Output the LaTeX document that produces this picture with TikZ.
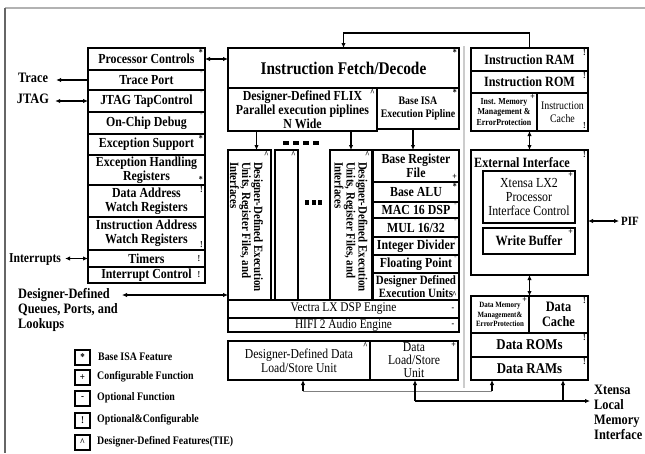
\documentclass[tikz,border=0pt]{standalone}
\usepackage{fontspec}
\setmainfont{Liberation Serif}[FakeStretch=0.86]
\usetikzlibrary{arrows.meta,calc}
\newcommand\fs[2]{\fontsize{\fpeval{#1*1.15}}{#2}\selectfont}
\newcommand\bx[7][]{\node[box,#1,minimum width={(#5-#3)*1pt},minimum height={(#6-#4)*1pt}] (#2) at ({(#3+#5)/2},{(#4+#6)/2}) {#7};}
\newcommand\mkNE[3][]{\node[mk,#1,anchor=north east] (#2-m) at ([xshift=-1.5pt,yshift=-1pt]#2.north east) {#3};}
\newcommand\mkSE[3][]{\node[mk,#1,anchor=south east] (#2-m) at ([xshift=-1.5pt,yshift=1.5pt]#2.south east) {#3};}
\newcommand\mkE[3][]{\node[mk,#1,anchor=east] (#2-m) at ([xshift=-4pt]#2.east) {#3};}
\begin{document}
\begin{tikzpicture}[x=1pt,y=-1pt,
  box/.style={draw, line width=1.9pt, inner sep=0pt, outer sep=0pt, align=center, font=\bfseries\fs{12}{14}},
  reg/.style={font=\fs{11.5}{13.5}},
  mk/.style={inner sep=0.5pt, font=\bfseries\fs{8}{8}},
  lbl/.style={inner sep=0pt, align=left, font=\bfseries\fs{12.5}{15}},
  arr/.style={line width=1.3pt, -{Latex[length=5pt,width=4.5pt]}},
  darr/.style={line width=1.3pt, {Latex[length=5pt,width=4.5pt]}-{Latex[length=5pt,width=4.5pt]}},
  frame/.style={line width=1.5pt, gray!60},
]
\useasboundingbox (0,0) rectangle (645,453);
% frame
\coordinate (f0) at (5,8);
\coordinate (f1) at (645,8);
\coordinate (f2) at (5,453);
\draw[frame] (f1) -- (f0);
\draw[line width=1.5pt, gray!80!black] (f0) -- (f2);
\coordinate (g0) at (464,46);
\coordinate (g1) at (464,388);
\draw[frame, gray!40] (g0) -- (g1);

% left column
\bx{pc}{88}{48}{205}{70}{Processor Controls}
\bx{tp}{88}{70}{205}{90}{Trace Port}
\bx{jt}{88}{90}{205}{112}{JTAG TapControl}
\bx{ocd}{88}{112}{205}{134}{On-Chip Debug}
\bx{es}{88}{134}{205}{155}{Exception Support}
\bx{ehr}{88}{155}{205}{185}{Exception Handling\\Registers}
\bx{daw}{88}{185}{205}{217}{Data Address\\Watch Registers}
\bx{iaw}{88}{217}{205}{250}{Instruction Address\\Watch Registers}
\bx{tim}{88}{250}{205}{267}{Timers}
\bx{ic}{88}{267}{205}{283}{Interrupt Control}
\mkNE{pc}{*}
\mkNE[gray]{tp}{-}
\mkNE[gray]{jt}{-}
\mkNE[gray]{ocd}{-}
\mkNE{es}{*}
\mkSE{ehr}{*}
\mkNE{daw}{!}
\mkSE{iaw}{!}
\mkE{tim}{!}
\mkE{ic}{!}

% left labels
\node[lbl] (trace) at (33,78) {Trace};
\node[lbl] (jtag) at (33,99) {JTAG};
\node[lbl, font=\bfseries\fs{11.8}{14}] (intr) at (35,259) {Interrupts};
\node[lbl, anchor=north west] (ddq) at (18,288) {Designer-Defined\\Queues, Ports, and\\Lookups};
\draw[arr] (tp.west) -- ($(tp.west -| trace.east)+(8,0)$);
\draw[darr] ($(jt.west -| jtag.east)+(6,0)$) -- (jt.west);
\draw[darr] ($(tim.west -| intr.east)+(4,0)$) -- (tim.west);

% centre
\bx[font=\bfseries\fs{15.5}{17}]{ifd}{228}{48}{459}{88}{Instruction Fetch/Decode}
\bx{flix}{228}{88}{377}{131}{Designer-Defined FLIX\\Parallel execution piplines\\N Wide}
\bx[font=\bfseries\fs{10}{13.5}]{bisa}{377}{88}{459}{129}{Base ISA\\Execution Pipline}
\mkNE{ifd}{*}
\mkNE{flix}{\textasciicircum}
\mkNE{bisa}{*}

\bx{c1}{228}{150}{271}{300}{}
\bx{c2}{275}{150}{298}{300}{}
\bx{c3}{330}{150}{372}{300}{}
\node[rotate=-90, align=left, inner sep=0pt, font=\bfseries\fs{11}{12}] (c1t) at ([xshift=-3pt,yshift=-2pt]c1.center) {Designer-Defined Execution\\Units, Register Files, and\\Interfaces};
\node[rotate=-90, align=left, inner sep=0pt, font=\bfseries\fs{11}{12}] (c3t) at ([yshift=-2pt]c3.center) {Designer-Defined Execution\\Units, Register Files, and\\Interfaces};
\mkNE{c1}{\textasciicircum}
\mkNE{c2}{\textasciicircum}
\mkNE{c3}{\textasciicircum}
\draw[line width=3.5pt, dash pattern=on 6pt off 4pt] (283,143) -- (319,143);
\foreach \d in {307,313.5,320} \fill (\d-2,200) rectangle (\d+2,204.5);

\bx{brf}{373}{150}{459}{182}{Base Register\\File}
\bx{alu}{373}{182}{459}{202}{Base ALU}
\bx{mac}{373}{202}{459}{218}{MAC 16 DSP}
\bx{mul}{373}{218}{459}{237}{MUL 16/32}
\bx{idiv}{373}{237}{459}{255}{Integer Divider}
\bx{fp}{373}{255}{459}{273}{Floating Point}
\bx[font=\bfseries\fs{11}{13}]{dde}{373}{273}{459}{300}{Designer Defined\\Execution Units}
\mkSE{brf}{+}
\mkNE{alu}{*}
\mkNE[gray]{mac}{-}
\mkNE[gray]{mul}{-}
\mkNE[gray]{idiv}{-}
\mkNE[gray]{fp}{-}
\mkSE{dde}{\textasciicircum}

\bx[reg]{vec}{228}{300}{459}{318}{Vectra LX DSP Engine}
\bx[reg]{hifi}{228}{318}{459}{332}{HIFI 2 Audio Engine}
\mkE{vec}{-}
\mkE{hifi}{-}
\bx[reg, font=\fs{11.8}{14}]{ddls}{228}{341}{370}{380}{Designer-Defined Data\\Load/Store Unit}
\bx[reg, font=\fs{11.8}{13}]{dls}{370}{341}{458}{380}{Data\\Load/Store\\Unit}
\mkNE{ddls}{\textasciicircum}
\mkNE{dls}{+}

\draw[arr] ([xshift=7pt]c1.north |- flix.south) -- ([xshift=7pt]c1.north);
\draw[arr] (c3.north |- flix.south) -- (c3.north);
\draw[arr] ([xshift=-3pt]brf.north |- bisa.south) -- ([xshift=-3pt]brf.north);
\draw[darr] (pc.east) -- (pc.east -| ifd.west);
\coordinate (q1) at (122,295);
\draw[darr] (q1) -- (q1 -| c1.west);

% right column
\bx[font=\bfseries\fs{12.3}{14}]{iram}{471}{48}{588}{71}{Instruction RAM}
\bx[font=\bfseries\fs{12.3}{14}]{irom}{471}{71}{588}{93}{Instruction ROM}
\bx[font=\bfseries\fs{8}{10.5}]{imm}{471}{93}{537}{131}{Inst. Memory\\Management \&\\ErrorProtection}
\bx[reg, font=\fs{10}{13}]{icache}{537}{93}{588}{131}{Instruction\\Cache}
\mkNE{iram}{!}
\mkNE{irom}{!}
\mkNE{imm}{+}
\mkSE{icache}{!}
\draw[arr] (iram.north) -- ++(0,-15) -| (ifd.north);

\bx{ext}{471}{150}{588}{275}{}
\node[inner sep=0pt, font=\bfseries\fs{12.3}{14}] (extt) at (522,163) {External Interface};
\node[mk, anchor=north east] (ext-m) at ([xshift=-1.5pt,yshift=-1pt]ext.north east) {!};
\bx[reg, font=\fs{12}{14}]{xlx}{483}{171}{575}{223}{Xtensa LX2\\Processor\\Interface Control}
\bx[font=\bfseries\fs{12.3}{14}]{wb}{483}{228}{575}{254}{Write Buffer}
\mkNE{xlx}{+}
\mkNE{wb}{+}

\bx[font=\bfseries\fs{7}{9.5}]{dmm}{471}{296}{529}{333}{Data Memory\\Management\&\\ErrorProtection}
\bx[font=\bfseries\fs{12.5}{15}]{dcache}{529}{296}{588}{333}{Data\\Cache}
\bx[font=\bfseries\fs{13}{15}]{drom}{471}{333}{588}{357}{Data ROMs}
\bx[font=\bfseries\fs{13}{15}]{dram}{471}{357}{588}{380}{Data RAMs}
\mkNE{dmm}{+}
\mkNE{dcache}{!}
\mkNE{drom}{!}
\mkNE{dram}{!}

\draw[darr] (ext.north |- imm.south) -- (ext.north);
\draw[darr] (ext.south) -- (ext.south |- dmm.north);
\node[lbl, font=\bfseries\fs{11}{12}, anchor=west] (pif) at (621,221) {PIF};
\draw[darr] (ext.east |- pif.west) -- ([xshift=-2pt]pif.west);

% bottom buses
\node[lbl, anchor=north west] (xlmi) at (594,385) {Xtensa\\Local\\Memory\\Interface};
\coordinate (b1) at (303,391);
\coordinate (b2) at (492,391);
\coordinate (b3) at (415,401);
\coordinate (b4) at (563,401);
\draw[line width=1pt, gray] (b1) -- (b2);
\draw[arr] (b1) -- (b1 |- ddls.south);
\draw[arr] (b2) -- (b2 |- dram.south);
\draw[arr] (b3) -- ($(b3 -| xlmi.west)+(-4,0)$);
\draw[arr] (b3) -- (b3 |- dls.south);
\draw[arr] (b4) -- (b4 |- dram.south);

% legend
\bx[line width=1.8pt, font=\bfseries\fs{9}{9}]{lg1}{75}{350}{90}{365}{*}
\bx[line width=1.8pt, font=\bfseries\fs{9}{9}]{lg2}{75}{370}{90}{385}{+}
\bx[line width=1.8pt, font=\bfseries\fs{9}{9}]{lg3}{75}{391}{90}{406}{-}
\bx[line width=1.8pt, font=\bfseries\fs{9}{9}]{lg4}{75}{413}{90}{428}{!}
\bx[line width=1.8pt, font=\bfseries\fs{9}{9}]{lg5}{75}{435}{90}{450}{\textasciicircum}
\node[lbl, font=\bfseries\fs{10}{12}, anchor=west] (lt1) at (98,357) {Base ISA Feature};
\node[lbl, font=\bfseries\fs{10}{12}, anchor=west] (lt2) at (97,377) {Configurable Function};
\node[lbl, font=\bfseries\fs{10}{12}, anchor=west] (lt3) at (97,398) {Optional Function};
\node[lbl, font=\bfseries\fs{10}{12}, anchor=west] (lt4) at (97,420) {Optional\&Configurable};
\node[lbl, font=\bfseries\fs{10}{12}, anchor=west] (lt5) at (97,442) {Designer-Defined Features(TIE)};
\end{tikzpicture}
\end{document}
